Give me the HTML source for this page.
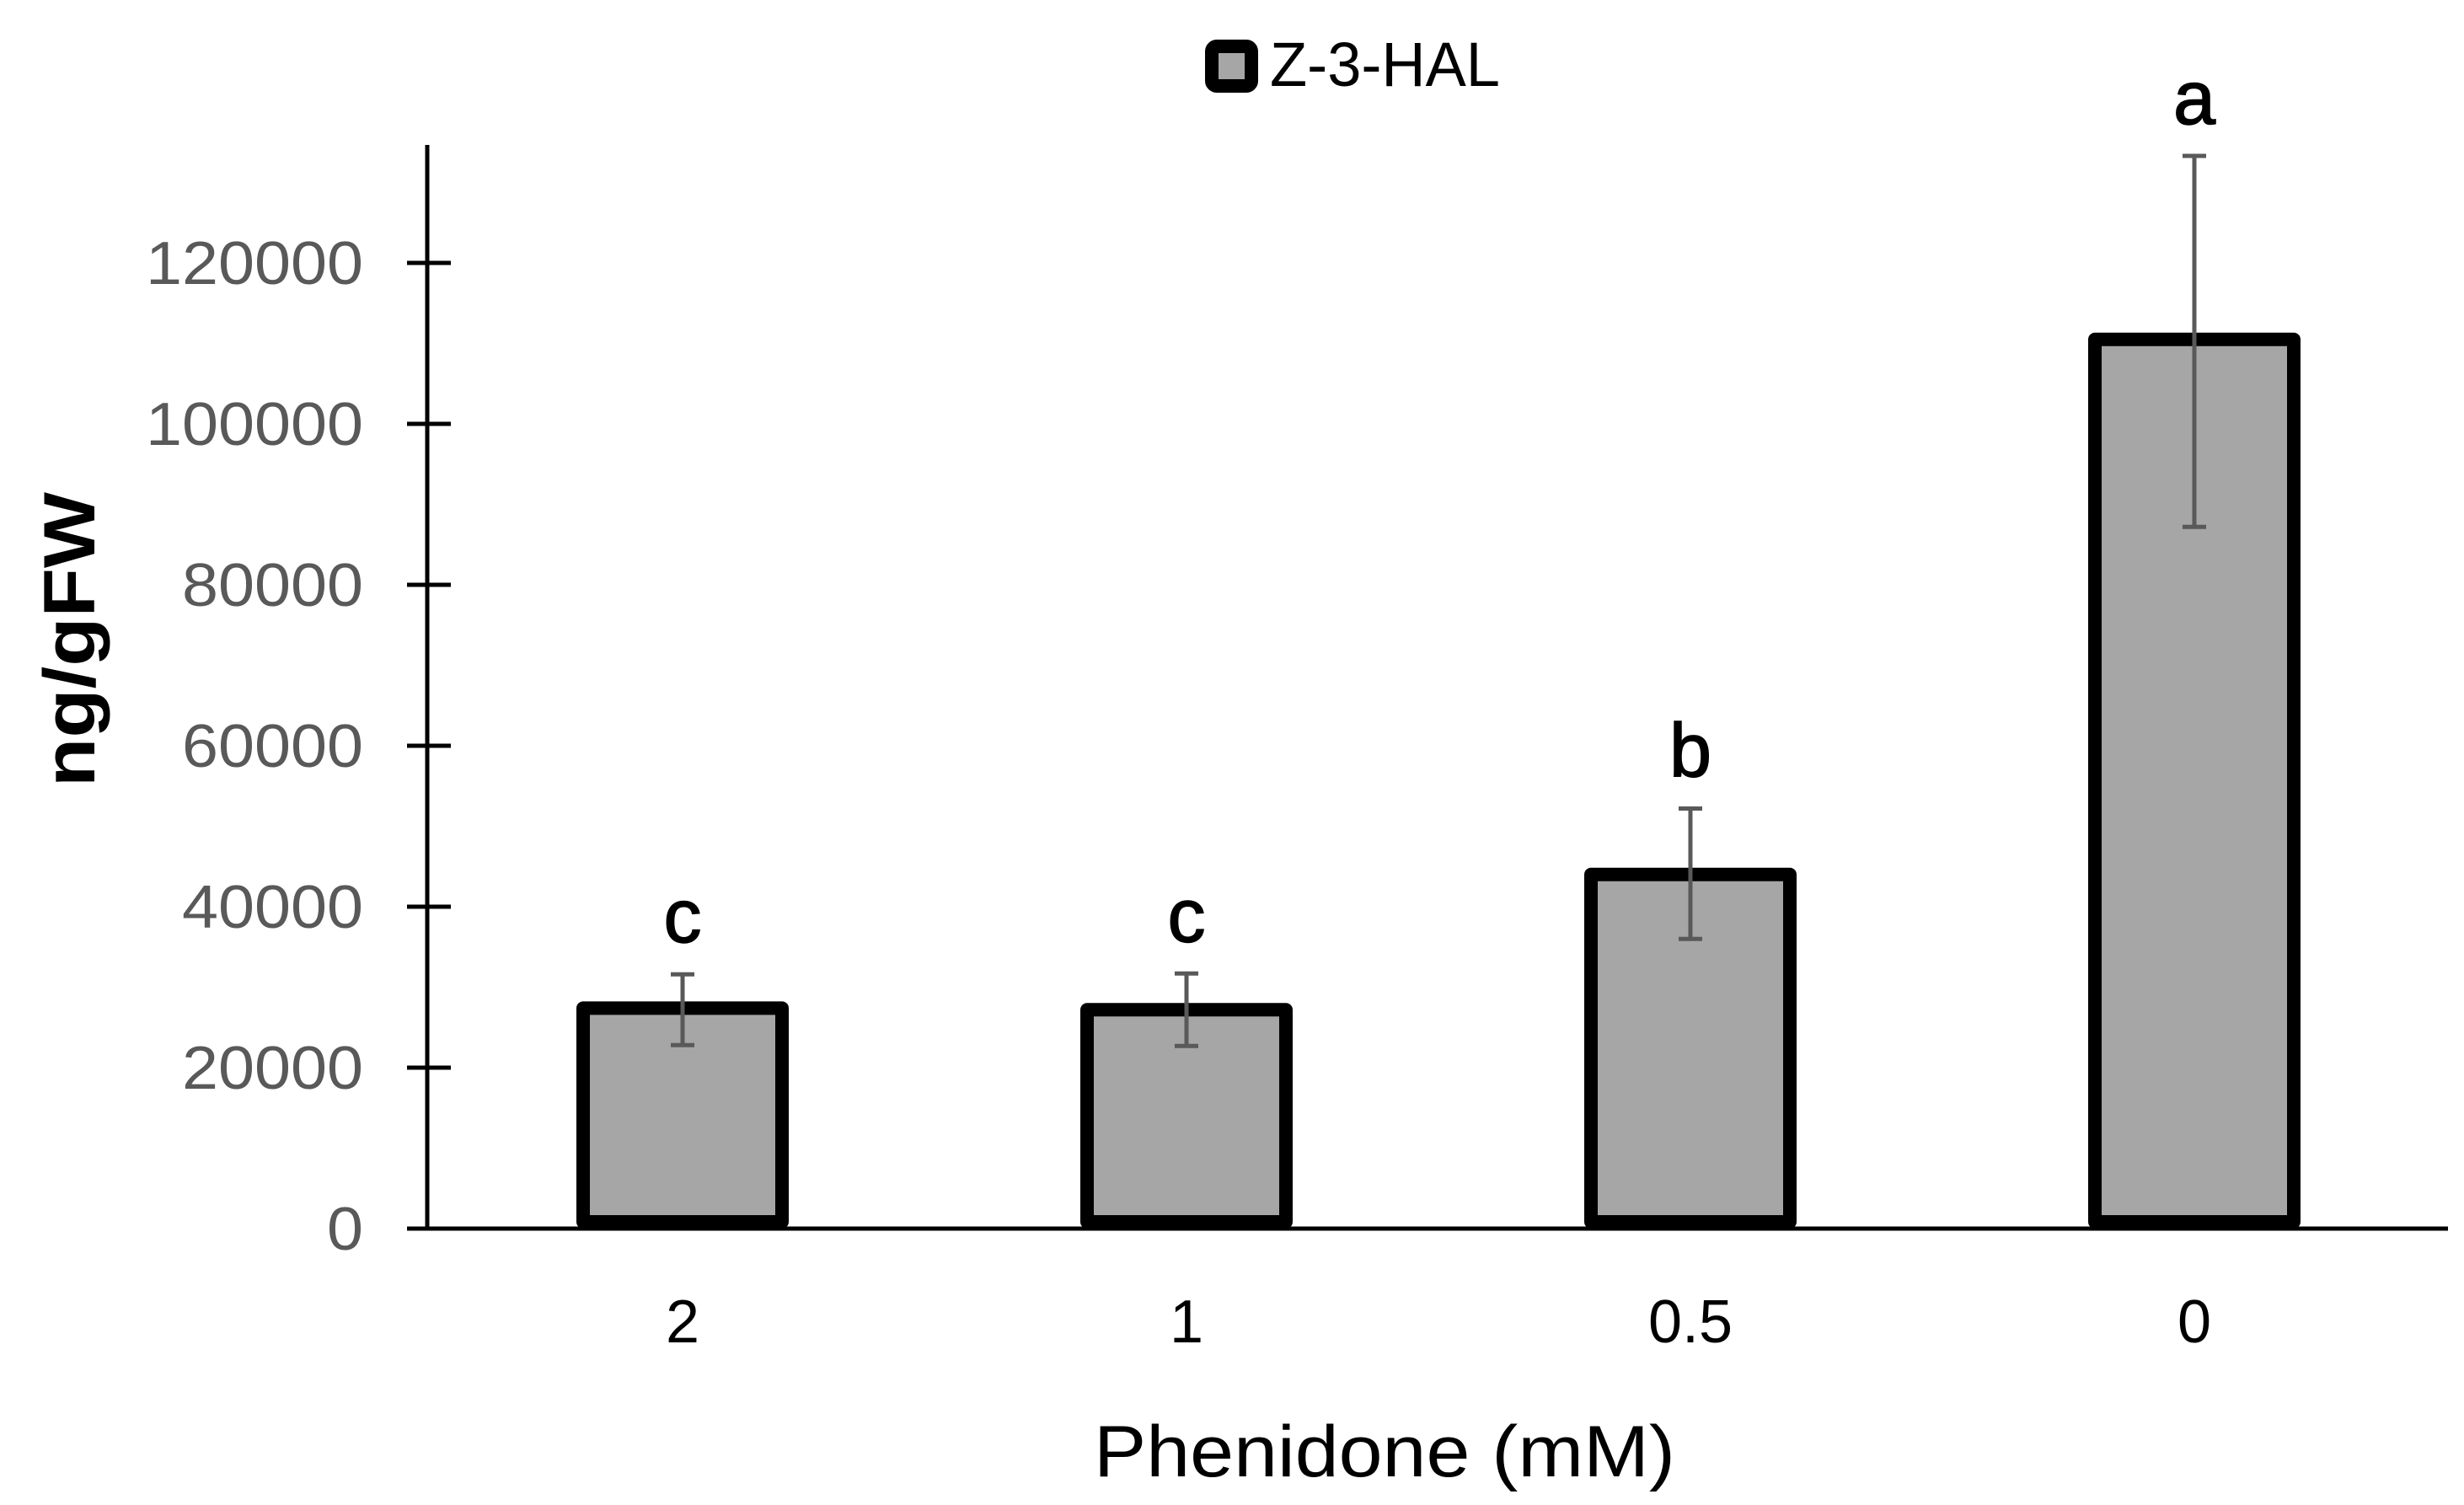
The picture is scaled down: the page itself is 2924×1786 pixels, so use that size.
<!DOCTYPE html>
<html><head><meta charset="utf-8"><style>
html,body{margin:0;padding:0;background:#fff}
svg{display:block}
text{font-family:"Liberation Sans",sans-serif}
</style></head><body>
<svg id="chart" width="2924" height="1786" viewBox="0 0 2924 1786" xmlns="http://www.w3.org/2000/svg">
<g id="axes"></g>
<g id="bars"></g>
<g>
<rect x="1438" y="55" width="47" height="47" rx="6" fill="#a6a6a6" stroke="#000" stroke-width="16"/>
<text x="1507" y="102" font-size="74" textLength="273" lengthAdjust="spacingAndGlyphs" fill="#000">Z-3-HAL</text>
</g>
<text x="1643" y="1752" font-size="86" text-anchor="middle" textLength="690" lengthAdjust="spacingAndGlyphs" fill="#000">Phenidone (mM)</text>
<text transform="translate(112,759) rotate(-90)" font-size="86" font-weight="bold" text-anchor="middle" textLength="350" lengthAdjust="spacingAndGlyphs" fill="#000">ng/gFW</text>
</svg>
<script>
const categories = ["2", "1", "0.5", "0"];
const values = [27400, 27200, 44000, 110500];
const errHigh = [31600, 31700, 52200, 133300];
const errLow = [22800, 22700, 36000, 87200];
const letters = ["c", "c", "b", "a"];
const yTicks = [0, 20000, 40000, 60000, 80000, 100000, 120000];
const yTickLabels = ["0", "20000", "40000", "60000", "80000", "100000", "120000"];

const NS = "http://www.w3.org/2000/svg";
const x0 = 507, x1 = 2905, y0 = 1458, pxPer = 191 / 20000, yTop = 172;
const bandW = 598;
function yScale(v) { return y0 - v * pxPer; }
function xCenter(i) { return 511 + bandW * (i + 0.5); }
function mk(tag, attrs, parent) {
  const e = document.createElementNS(NS, tag);
  for (const k in attrs) e.setAttribute(k, attrs[k]);
  parent.appendChild(e);
  return e;
}
const axes = document.getElementById("axes");
const bars = document.getElementById("bars");

let yl = mk("line", {x1: x0, y1: yTop, x2: x0, y2: y0, stroke: "#000", "stroke-width": 5}, axes);


let xl = mk("line", {x1: 483, y1: y0, x2: x1, y2: y0, stroke: "#000", "stroke-width": 5}, axes);



yTicks.forEach((t, i) => {
  const y = yScale(t);
  if (t > 0) {
    const tk = mk("line", {x1: 483, y1: y, x2: 535, y2: y, stroke: "#000", "stroke-width": 5}, axes);
    
    
  }
  const lab = yTickLabels[i];
  const tx = mk("text", {x: 431, y: y + 25, "font-size": 72, "text-anchor": "end", fill: "#595959", textLength: lab.length * 43, lengthAdjust: "spacingAndGlyphs"}, axes);
  tx.textContent = lab;
  
  
});

categories.forEach((c, i) => {
  const cx = xCenter(i), w = 236;
  const top = yScale(values[i]);
  const r = mk("rect", {x: cx - w / 2, y: top, width: w, height: y0 - top - 8, fill: "#a6a6a6", stroke: "#000", "stroke-width": 16, "stroke-linejoin": "round"}, bars);
  
  
  const eh = yScale(errHigh[i]), el = yScale(errLow[i]);
  const g = mk("g", {stroke: "#595959", "stroke-width": 5}, bars);
  
  
  mk("line", {x1: cx, y1: eh, x2: cx, y2: el}, g);
  mk("line", {x1: cx - 14, y1: eh, x2: cx + 14, y2: eh}, g);
  mk("line", {x1: cx - 14, y1: el, x2: cx + 14, y2: el}, g);
  const lt = mk("text", {x: cx, y: eh - 38, "font-size": 90, "text-anchor": "middle", fill: "#000", stroke: "#000", "stroke-width": 1.5}, bars);
  lt.textContent = letters[i];
  
  
  const xt = mk("text", {x: cx, y: 1593, "font-size": 72, "text-anchor": "middle", fill: "#000"}, axes);
  xt.textContent = c;
  
  
});
</script>
</body></html>
